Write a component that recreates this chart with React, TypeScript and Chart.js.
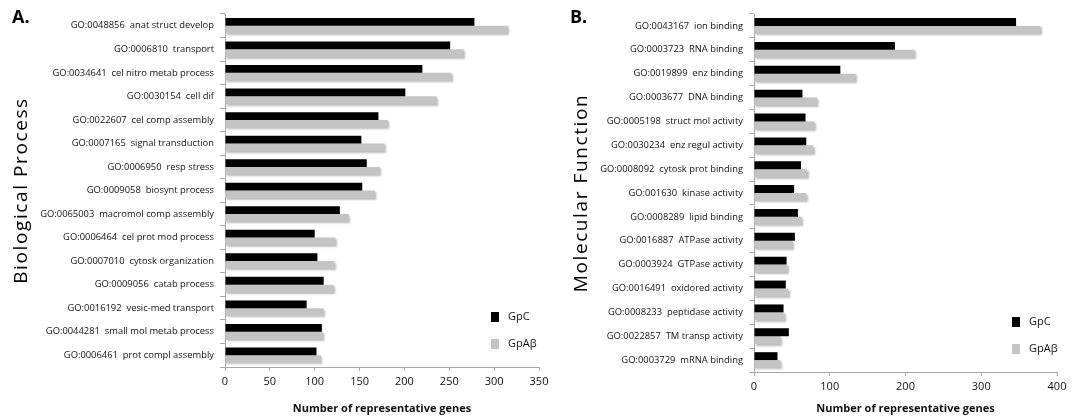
import React, { useEffect, useRef } from "react";
import { Chart, registerables } from "chart.js";

Chart.register(...registerables);

const bpCategories = [
  "GO:0048856  anat struct develop",
  "GO:0006810  transport",
  "GO:0034641  cel nitro metab process",
  "GO:0030154  cell dif",
  "GO:0022607  cel comp assembly",
  "GO:0007165  signal transduction",
  "GO:0006950  resp stress",
  "GO:0009058  biosynt process",
  "GO:0065003  macromol comp assembly",
  "GO:0006464  cel prot mod process",
  "GO:0007010  cytosk organization",
  "GO:0009056  catab process",
  "GO:0016192  vesic-med transport",
  "GO:0044281  small mol metab process",
  "GO:0006461  prot compl assembly",
];
const bpGpC = [278, 251, 220, 201, 171, 152, 158, 153, 128, 100, 103, 110, 91, 108, 102];
const bpGpAb = [315, 266, 252, 236, 181, 178, 172, 167, 138, 123, 122, 121, 110, 109, 107];

const mfCategories = [
  "GO:0043167  ion binding",
  "GO:0003723  RNA binding",
  "GO:0019899  enz binding",
  "GO:0003677  DNA binding",
  "GO:0005198  struct mol activity",
  "GO:0030234  enz regul activity",
  "GO:0008092  cytosk prot binding",
  "GO:001630  kinase activity",
  "GO:0008289  lipid binding",
  "GO:0016887  ATPase activity",
  "GO:0003924  GTPase activity",
  "GO:0016491  oxidored activity",
  "GO:0008233  peptidase activity",
  "GO:0022857  TM transp activity",
  "GO:0003729  mRNA binding",
];
const mfGpC = [346, 186, 114, 64, 68, 69, 62, 53, 58, 54, 43, 42, 39, 46, 31];
const mfGpAb = [378, 212, 134, 83, 80, 78, 70, 69, 63, 51, 44, 45, 40, 35, 35];

const seriesNames = ["GpC", "GpA\u03b2"];
const seriesColors = ["#000000", "#c4c4c4"];

const FONT = "'Open Sans', 'DejaVu Sans', sans-serif";
const AXIS_COLOR = "#a8a8a8";

type PanelCfg = {
  width: number;
  height: number;
  letter: string;
  letterX: number;
  axisTitle: string;
  titleX: number;
  categories: string[];
  a: number[];
  b: number[];
  xMax: number;
  xStep: number;
  areaLeft: number;
  areaRight: number;
  areaTop: number;
  areaBottom: number;
  legendX: number;
  legendY: number;
};

function Panel({ cfg, left }: { cfg: PanelCfg; left: number }) {
  const ref = useRef<HTMLCanvasElement | null>(null);
  useEffect(() => {
    if (!ref.current) return;
    const decor = {
      id: "decor",
      beforeDatasetDraw(chart: any, args: any) {
        if (args.index === 1) {
          const ctx = chart.ctx;
          ctx.save();
          ctx.shadowColor = "rgba(0,0,0,0.28)";
          ctx.shadowBlur = 2;
          ctx.shadowOffsetX = 1.5;
          ctx.shadowOffsetY = 1.5;
        }
      },
      afterDatasetDraw(chart: any, args: any) {
        if (args.index === 1) chart.ctx.restore();
      },
      afterDraw(chart: any) {
        const ctx = chart.ctx;
        const area = chart.chartArea;
        ctx.save();
        ctx.fillStyle = "#000";
        ctx.font = `bold 18px ${FONT}`;
        ctx.textBaseline = "middle";
        ctx.textAlign = "left";
        ctx.fillText(cfg.letter, cfg.letterX, 18);
        // rotated axis title
        ctx.save();
        ctx.translate(cfg.titleX, (area.top + area.bottom) / 2);
        ctx.rotate(-Math.PI / 2);
        ctx.font = `19px ${FONT}`;
        (ctx as any).letterSpacing = "1.6px";
        ctx.textAlign = "center";
        ctx.fillStyle = "#000";
        ctx.fillText(cfg.axisTitle, 0, 0);
        ctx.restore();
        // legend
        ctx.font = `11px ${FONT}`;
        ctx.textBaseline = "middle";
        ctx.textAlign = "left";
        chart.data.datasets.forEach((ds: any, i: number) => {
          const y = cfg.legendY + i * 27;
          ctx.fillStyle = ds.backgroundColor;
          ctx.fillRect(cfg.legendX, y - 5, 8, 10);
          ctx.fillStyle = "#111";
          ctx.fillText(ds.label, cfg.legendX + 17, y);
        });
        ctx.restore();
      },
    };
    const chart = new Chart(ref.current, {
      type: "bar",
      data: {
        labels: cfg.categories,
        datasets: [
          { label: seriesNames[0], data: cfg.a, backgroundColor: seriesColors[0] },
          { label: seriesNames[1], data: cfg.b, backgroundColor: seriesColors[1] },
        ],
      },
      options: {
        indexAxis: "y",
        animation: false,
        responsive: false,
        maintainAspectRatio: false,
        layout: {
          padding: { left: 0, top: cfg.areaTop, right: cfg.width - cfg.areaRight, bottom: 0 },
        },
        datasets: { bar: { categoryPercentage: 0.66, barPercentage: 1 } },
        plugins: { legend: { display: false }, tooltip: { enabled: false } },
        scales: {
          y: {
            afterFit(scale: any) {
              scale.width = cfg.areaLeft;
            },
            ticks: { font: { family: FONT, size: 9.4 }, color: "#111", padding: 6, autoSkip: false },
            grid: { drawOnChartArea: false, drawTicks: true, tickLength: 5, color: AXIS_COLOR, offset: true },
            border: { display: true, color: AXIS_COLOR },
          },
          x: {
            min: 0,
            max: cfg.xMax,
            afterFit(scale: any) {
              scale.height = cfg.height - cfg.areaBottom;
            },
            ticks: { stepSize: cfg.xStep, font: { family: FONT, size: 11 }, color: "#111", padding: 4 },
            grid: { drawOnChartArea: false, drawTicks: true, tickLength: 4, color: AXIS_COLOR },
            border: { display: true, color: AXIS_COLOR },
            title: {
              display: true,
              text: "Number of representative genes",
              font: { family: FONT, size: 11, weight: "bold" },
              color: "#111",
              padding: { top: 0, bottom: 3 },
            },
          },
        },
      },
      plugins: [decor],
    } as any);
    return () => chart.destroy();
  }, [cfg]);
  return (
    <canvas
      ref={ref}
      width={cfg.width}
      height={cfg.height}
      style={{ position: "absolute", left, top: 0, width: cfg.width, height: cfg.height }}
    />
  );
}

const leftCfg: PanelCfg = {
  width: 560,
  height: 418,
  letter: "A.",
  letterX: 12,
  axisTitle: "Biological Process",
  titleX: 22,
  categories: bpCategories,
  a: bpGpC,
  b: bpGpAb,
  xMax: 350,
  xStep: 50,
  areaLeft: 225,
  areaRight: 539,
  areaTop: 14,
  areaBottom: 367,
  legendX: 491,
  legendY: 317,
};

const rightCfg: PanelCfg = {
  width: 521,
  height: 418,
  letter: "B.",
  letterX: 10,
  axisTitle: "Molecular Function",
  titleX: 22,
  categories: mfCategories,
  a: mfGpC,
  b: mfGpAb,
  xMax: 400,
  xStep: 100,
  areaLeft: 194,
  areaRight: 497,
  areaTop: 14,
  areaBottom: 372,
  legendX: 452,
  legendY: 322,
};

export default function App() {
  return (
    <div style={{ position: "fixed", left: 0, top: 0, width: 1081, height: 418, background: "#fff" }}>
      <Panel cfg={leftCfg} left={0} />
      <Panel cfg={rightCfg} left={560} />
    </div>
  );
}
